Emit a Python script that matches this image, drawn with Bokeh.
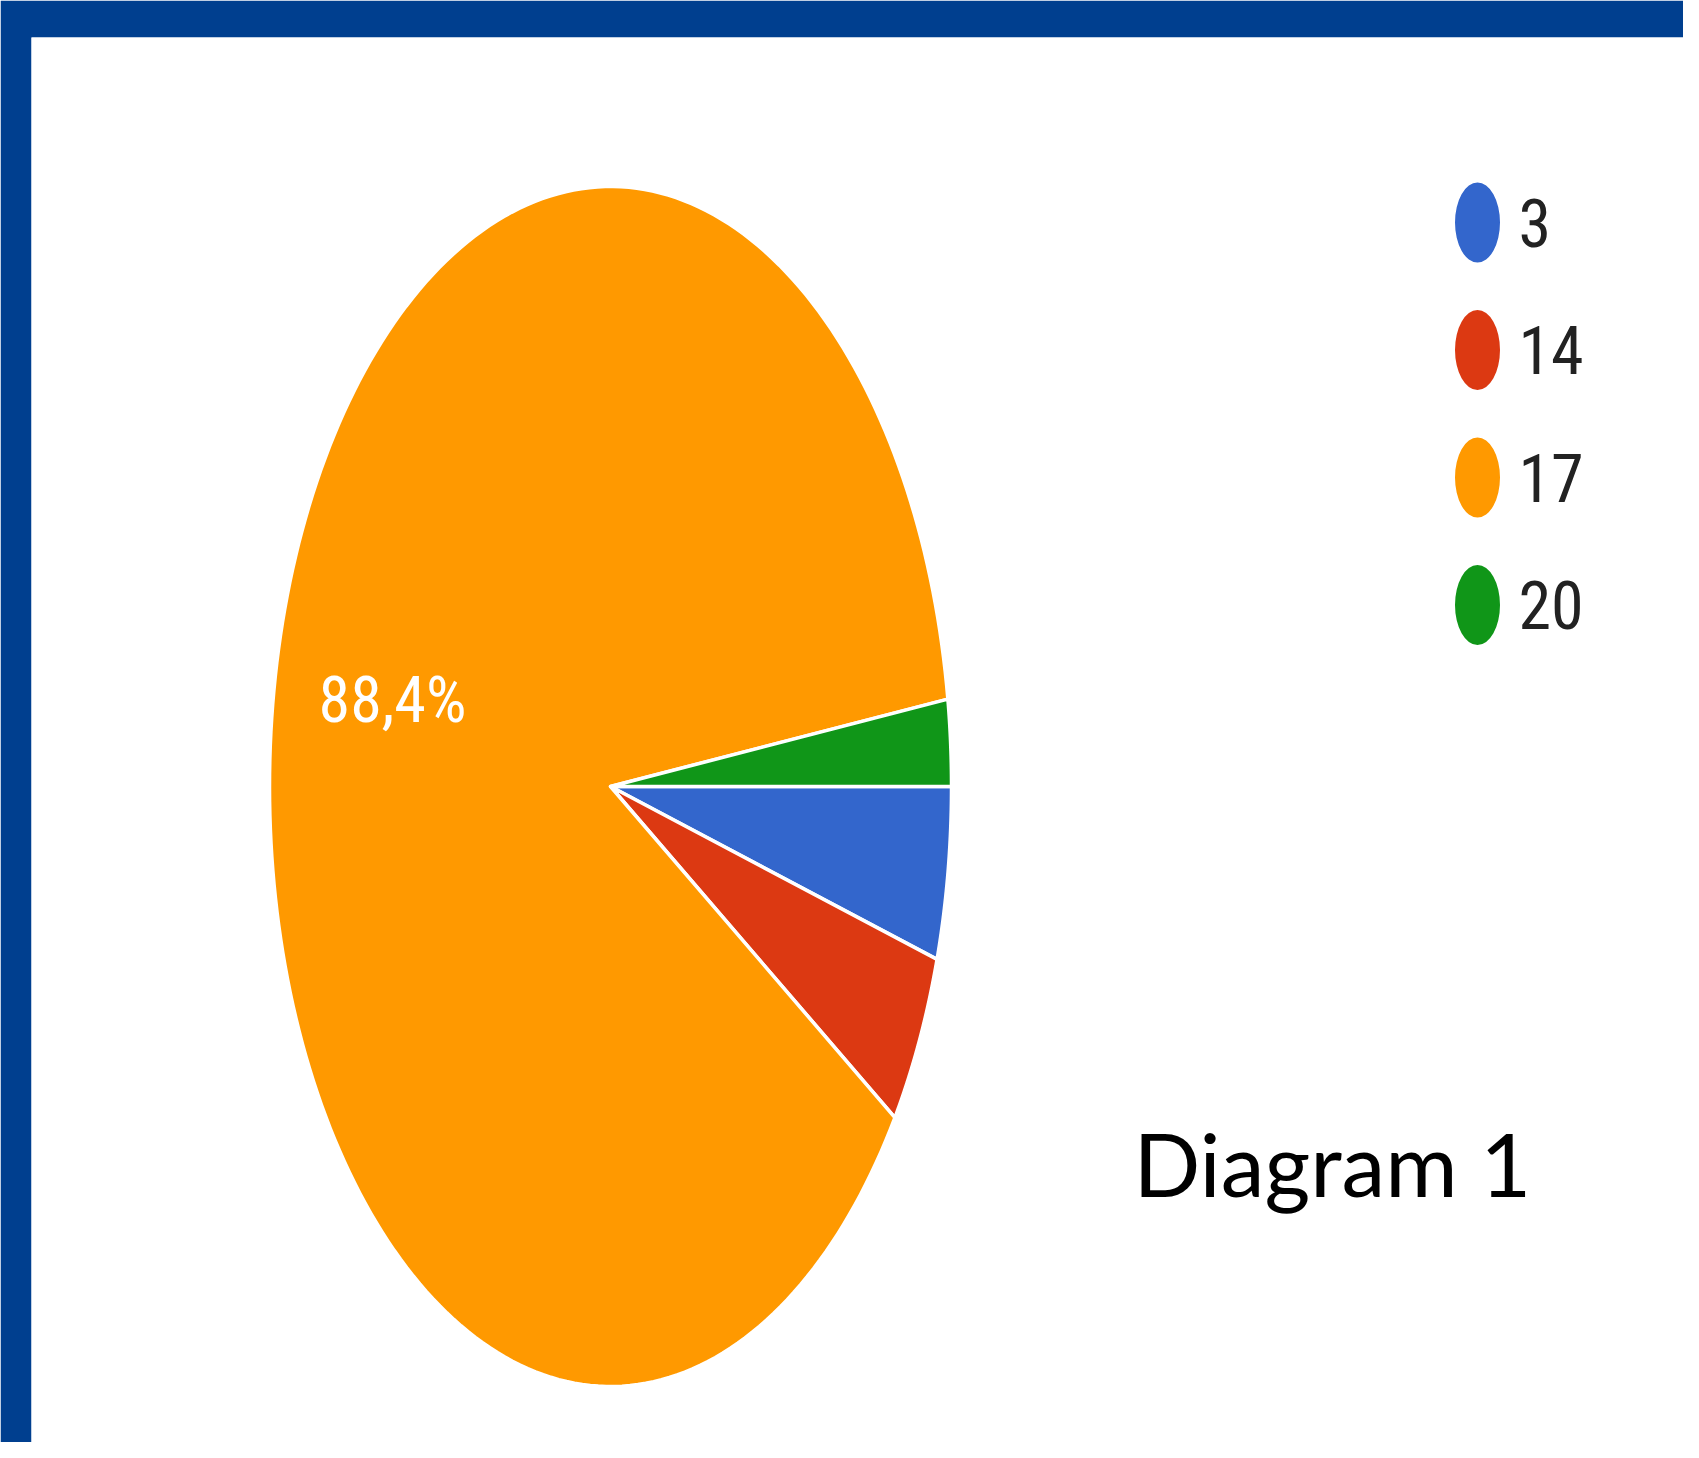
import numpy as np
from bokeh.plotting import figure
from bokeh.models import Range1d
from bokeh.core.properties import value
from bokeh.embed import file_html
from bokeh.resources import INLINE

# ---- data ----
categories = ["3", "14", "17", "20"]
counts = [2, 2, 38, 1]
colors = ["#3366CC", "#DC3912", "#FF9900", "#109618"]
caption = "Diagram 1"

# ---- layout (image pixel coordinates) ----
W, H = 1683, 1442
BL, BT = 31, 37
CX, CY, RX, RY = 610, 786, 341, 600
NARROW = "Roboto Condensed, Liberation Sans Narrow, DejaVu Sans Condensed, Roboto, sans-serif"

p = figure(width=W, height=H, output_backend="svg", toolbar_location=None,
           x_range=Range1d(BL, W), y_range=Range1d(H, BT),
           x_axis_location=None, y_axis_location=None,
           min_border_left=BL, min_border_top=BT, min_border_right=0, min_border_bottom=0,
           border_fill_color="#003F8F", background_fill_color="white",
           outline_line_color=None)
p.grid.visible = False

total = float(sum(counts))
fracs = np.array(counts) / total
ends = np.cumsum(fracs) * 2 * np.pi
starts = np.concatenate([[0.0], ends[:-1]])

xs, ys = [], []
for a0, a1 in zip(starts, ends):
    th = np.linspace(a0, a1, 240)
    xs.append(np.concatenate([[CX], CX + RX * np.cos(th)]).tolist())
    ys.append(np.concatenate([[CY], CY + RY * np.sin(th)]).tolist())

p.patches(xs=xs, ys=ys, fill_color=colors, line_color="white", line_width=3.5,
          line_join="round")

# percentage labels
lx, ly, lt = [], [], []
for f, a0, a1 in zip(fracs, starts, ends):
    if f >= 0.05:
        m = (a0 + a1) / 2
        lx.append(CX + 0.655 * RX * np.cos(m))
        ly.append(CY + 0.66 * RY * np.sin(m))
        lt.append(f"{f * 100:.1f}".replace(".", ",") + "%")
p.text(x=lx, y=ly, text=lt, text_color="white", text_font=value(NARROW),
       text_font_size="64px", text_align="center", text_baseline="middle")

# legend
n = len(categories)
leg_y = [222 + 127.5 * i for i in range(n)]
p.ellipse(x=[1477] * n, y=leg_y, width=45, height=80, fill_color=colors, line_color=None)
p.text(x=[1518] * n, y=leg_y, text=categories, text_color="#222222",
       text_font=value(NARROW), text_font_size="66px", text_align="left",
       text_baseline="middle")

# caption
p.text(x=[1133], y=[1162], text=[caption], text_color="black",
       text_font=value("Lato"), text_font_size="88px", text_align="left",
       text_baseline="middle")

open("out.html", "w").write(file_html(p, INLINE))
